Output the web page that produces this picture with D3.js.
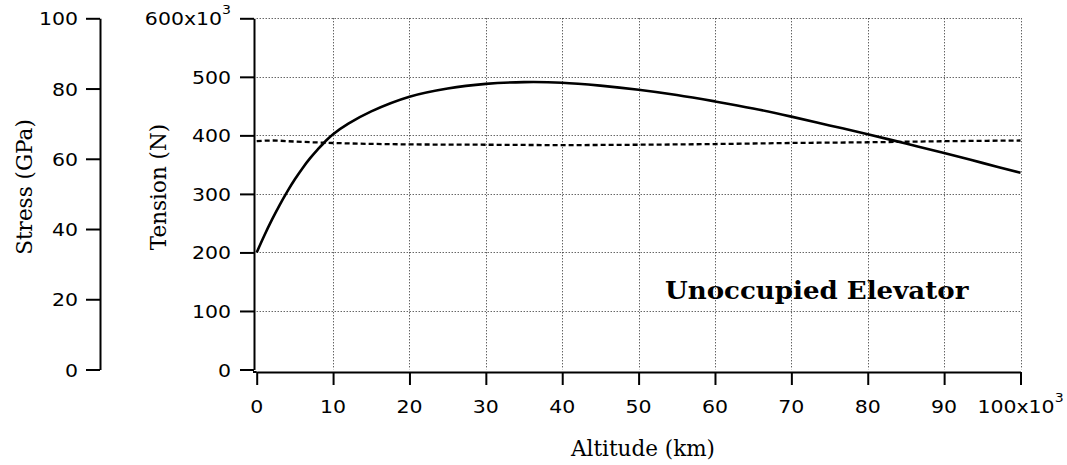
<!DOCTYPE html>
<html>
<head>
<meta charset="utf-8">
<script src="https://cdn.jsdelivr.net/npm/d3@7/dist/d3.min.js"></script>
<style>
  html, body { margin: 0; padding: 0; background: #fff; }
  svg { display: block; }
</style>
</head>
<body>
<svg id="chart" width="1067" height="465"></svg>
<script>
// ---------------- data ----------------
const altitudeTension = [0, 1000, 2000, 3000, 4000, 5000, 6000, 7000, 8000, 9000, 10000, 12000, 15000, 20000, 25000, 30000, 35000, 40000, 45000, 50000, 55000, 60000, 65000, 70000, 75000, 80000, 85000, 90000, 95000, 100000];
const tensionN = [200000, 229000, 256000, 281000, 304000, 325000, 344000, 361000, 376000, 390000, 402000, 420000, 441000, 466000, 480000, 488000, 491000, 490000, 485000, 478000, 469000, 458000, 446000, 432000, 417000, 402000, 386000, 370000, 353000, 336000];
const altitudeStress = [0, 2000, 5000, 10000, 20000, 30000, 40000, 50000, 60000, 70000, 80000, 90000, 100000];
const stressGPa = [65.0, 65.2, 64.9, 64.5, 64.1, 64.0, 63.9, 64.0, 64.2, 64.5, 64.7, 65.0, 65.2];
const xTicks = [0, 10000, 20000, 30000, 40000, 50000, 60000, 70000, 80000, 90000, 100000];
const xTickLabels = ["0", "10", "20", "30", "40", "50", "60", "70", "80", "90", "100"];
const tensionTicks = [0, 100000, 200000, 300000, 400000, 500000, 600000];
const tensionTickLabels = ["0", "100", "200", "300", "400", "500", "600"];
const stressTicks = [0, 20, 40, 60, 80, 100];
const stressTickLabels = ["0", "20", "40", "60", "80", "100"];
const xTitle = "Altitude (km)";
const tensionTitle = "Tension (N)";
const stressTitle = "Stress (GPa)";
const annotation = "Unoccupied Elevator";

// ---------------- layout ----------------
const svg = d3.select("#chart");
const X0 = 256.7, X1 = 1020.5, YTOP = 18.3, YBOT = 369.5;
const x = d3.scaleLinear().domain([0, 100000]).range([X0, X1]);
const yT = d3.scaleLinear().domain([0, 600000]).range([YBOT, YTOP]);
const yS = d3.scaleLinear().domain([0, 100]).range([YBOT, YTOP]);
const sansFont = "'DejaVu Sans', Verdana, sans-serif";
const serifFont = "'DejaVu Serif', serif";
const SX = 1.17; // horizontal stretch for the wide tick font

// grid
const grid = svg.append("g").attr("stroke", "#222").attr("stroke-width", 1).attr("stroke-dasharray", "1,2");
grid.selectAll("line.v").data(xTicks.slice(1)).join("line")
  .attr("x1", d => Math.round(x(d)) + 0.5).attr("x2", d => Math.round(x(d)) + 0.5)
  .attr("y1", YTOP).attr("y2", YBOT);
grid.selectAll("line.h").data(tensionTicks.slice(1)).join("line")
  .attr("x1", X0).attr("x2", X1)
  .attr("y1", d => Math.round(yT(d)) + 0.5).attr("y2", d => Math.round(yT(d)) + 0.5);

// axes (lines and ticks via d3.axis)
function styleAxis(g) {
  g.selectAll("path.domain").attr("stroke", "#000").attr("stroke-width", 2);
  g.selectAll(".tick line").attr("stroke", "#000").attr("stroke-width", 2);
  g.selectAll(".tick text").remove();
}
svg.append("g").attr("transform", "translate(100,0)")
  .call(d3.axisLeft(yS).tickValues(stressTicks).tickSize(14).tickSizeOuter(0).tickFormat(""))
  .call(styleAxis);
svg.append("g").attr("transform", "translate(254,0)")
  .call(d3.axisLeft(yT).tickValues(tensionTicks).tickSize(14).tickSizeOuter(0).tickFormat(""))
  .call(styleAxis);
svg.append("g").attr("transform", "translate(0,372)")
  .call(d3.axisBottom(x).tickValues(xTicks).tickSize(13).tickSizeOuter(0).tickFormat(""))
  .call(styleAxis);
svg.append("line").attr("x1", 253).attr("x2", X0).attr("y1", 372).attr("y2", 372)
  .attr("stroke", "#000").attr("stroke-width", 2);

// tick label helper: stretched text with optional superscript
function label(g, px, py, main, sup, anchor) {
  const t = g.append("g").attr("transform", `translate(${px},${py}) scale(${SX},1)`);
  const txt = t.append("text").attr("font-family", sansFont).attr("font-size", 17.5).attr("fill", "#000");
  txt.append("tspan").text(main);
  if (sup) txt.append("tspan").attr("font-size", 12).attr("dy", -11).text(sup);
  const w = txt.node().getComputedTextLength();
  if (anchor === "end") txt.attr("x", -w);
  else if (anchor === "middle") txt.attr("x", -w / 2);
  return txt;
}
const lbl = svg.append("g");
stressTicks.forEach((v, i) => label(lbl, 78, yS(v) + 7, stressTickLabels[i], null, "end"));
tensionTicks.forEach((v, i) => label(lbl, 231, yT(v) + 7, tensionTickLabels[i] + (i === tensionTicks.length - 1 ? "x10" : ""), i === tensionTicks.length - 1 ? "3" : null, "end"));
xTicks.forEach((v, i) => label(lbl, x(v), 413, xTickLabels[i] + (i === xTicks.length - 1 ? "x10" : ""), i === xTicks.length - 1 ? "3" : null, "middle"));

// titles
svg.append("text").attr("transform", "translate(32,187) rotate(-90)")
  .attr("text-anchor", "middle").attr("font-family", serifFont).attr("font-size", 21.5).text(stressTitle);
svg.append("text").attr("transform", "translate(166,187) rotate(-90)")
  .attr("text-anchor", "middle").attr("font-family", serifFont).attr("font-size", 21.5).text(tensionTitle);
svg.append("text").attr("x", 643).attr("y", 456)
  .attr("text-anchor", "middle").attr("font-family", serifFont).attr("font-size", 21.5).text(xTitle);

// series
const tensionLine = d3.line().x((d, i) => x(altitudeTension[i])).y(d => yT(d)).curve(d3.curveCatmullRom.alpha(0.5));
svg.append("path").attr("d", tensionLine(tensionN))
  .attr("fill", "none").attr("stroke", "#000").attr("stroke-width", 2.6);
const stressLine = d3.line().x((d, i) => x(altitudeStress[i])).y(d => yS(d)).curve(d3.curveMonotoneX);
svg.append("path").attr("d", stressLine(stressGPa))
  .attr("fill", "none").attr("stroke", "#000").attr("stroke-width", 2.3).attr("stroke-dasharray", "5,3");

// annotation (wide bold serif)
svg.append("g").attr("transform", "translate(665,299) scale(1.11,1)")
  .append("text").attr("font-family", serifFont)
  .attr("font-weight", "bold").attr("font-size", 23.5).attr("fill", "#000").text(annotation);
</script>
</body>
</html>
